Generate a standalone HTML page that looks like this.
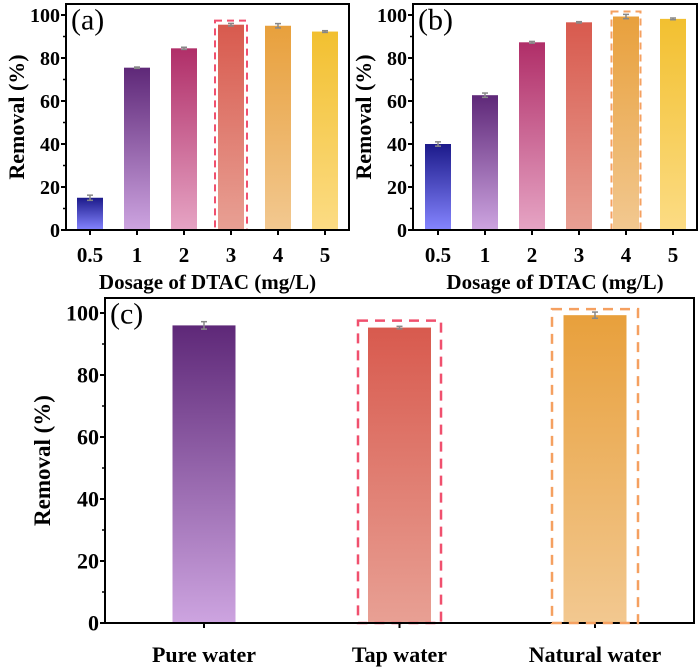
<!DOCTYPE html>
<html><head><meta charset="utf-8"><style>
html,body{margin:0;padding:0;background:#fff;}
svg{display:block;}
svg text{font-family:"Liberation Serif",serif;font-weight:bold;}
svg text.pl{font-weight:normal;}
</style></head><body>
<svg id="fig" width="700" height="670" viewBox="0 0 700 670">
<defs>
<linearGradient id="gBlue" x1="0" y1="0" x2="0" y2="1"><stop offset="0" stop-color="#1c1a8a"/><stop offset="1" stop-color="#8585ff"/></linearGradient>
<linearGradient id="gPurple" x1="0" y1="0" x2="0" y2="1"><stop offset="0" stop-color="#5e2878"/><stop offset="1" stop-color="#cda4e0"/></linearGradient>
<linearGradient id="gMagenta" x1="0" y1="0" x2="0" y2="1"><stop offset="0" stop-color="#b02e68"/><stop offset="1" stop-color="#e6a4c4"/></linearGradient>
<linearGradient id="gRed" x1="0" y1="0" x2="0" y2="1"><stop offset="0" stop-color="#d85a4e"/><stop offset="1" stop-color="#e8a094"/></linearGradient>
<linearGradient id="gOrange" x1="0" y1="0" x2="0" y2="1"><stop offset="0" stop-color="#e8a03c"/><stop offset="1" stop-color="#f2c890"/></linearGradient>
<linearGradient id="gYellow" x1="0" y1="0" x2="0" y2="1"><stop offset="0" stop-color="#f2c030"/><stop offset="1" stop-color="#fcdc84"/></linearGradient>
</defs>
</svg>
<script>
const catsA = ["0.5","1","2","3","4","5"];
const valsA = [15, 75.5, 84.5, 95.5, 95, 92.3];
const errA = [1.2, 0.3, 0.5, 0.6, 1.0, 0.4];
const valsB = [40, 62.7, 87.3, 96.6, 99.3, 98.2];
const errB = [1.0, 1.0, 0.4, 0.3, 1.0, 0.4];
const catsC = ["Pure water","Tap water","Natural water"];
const valsC = [96, 95.3, 99.3];
const errC = [1.2, 0.4, 1.0];
const yTicks = [0,20,40,60,80,100];
const fills6 = ["gBlue","gPurple","gMagenta","gRed","gOrange","gYellow"];
const fills3 = ["gPurple","gRed","gOrange"];

const NS = "http://www.w3.org/2000/svg";
const svg = document.getElementById("fig");
function mk(tag, attrs, parent, txt){
  const e = document.createElementNS(NS, tag);
  for (const k in attrs) e.setAttribute(k, attrs[k]);
  if (tag === "text") e.setAttribute("font-family", "Liberation Serif, serif");
  if (txt !== undefined) e.textContent = txt;
  (parent||svg).appendChild(e);
  return e;
}

function panel(p){
  const g = mk("g", {});
  
  
  const y = v => p.y0 - (v/100)*(p.y0 - p.y100);
  const x = i => p.xFirst + i*p.step;
  p.vals.forEach((v,i)=>{
    const r = mk("rect", {x: x(i)-p.bw/2, y: y(v), width: p.bw, height: y(0)-y(v), fill: "url(#"+p.fills[i]+")"}, g);
    
    
    const e = p.errs[i];
    const eb = mk("g", {stroke:"#888", "stroke-width":1.5}, g);
    
    
    mk("line", {x1:x(i), x2:x(i), y1:y(v+e), y2:y(v-e)}, eb);
    mk("line", {x1:x(i)-3, x2:x(i)+3, y1:y(v+e), y2:y(v+e)}, eb);
    mk("line", {x1:x(i)-3, x2:x(i)+3, y1:y(v-e), y2:y(v-e)}, eb);
  });
  if (p.hl !== undefined){
    const i = p.hl, v = p.vals[i];
    const hb = mk("rect", {x: x(i)-p.hw/2, y: y(v)-p.hpad, width: p.hw, height: y(0)-y(v)+p.hpad, fill:"none", stroke:p.hcol, "stroke-width":p.hsw, "stroke-dasharray":p.hdash}, g);
    
    
  }
  const fr = mk("rect", {x:p.l, y:p.t, width:p.r-p.l, height:p.y0-p.t, fill:"none", stroke:"#000", "stroke-width":2}, g);
  
  
  yTicks.forEach(t=>{
    mk("line", {x1:p.l-5, x2:p.l, y1:y(t), y2:y(t), stroke:"#000", "stroke-width":2}, g);
    const tl = mk("text", {x:p.l-6, y:y(t)+p.fs*0.35, "text-anchor":"end", "font-size":p.fs}, g, String(t));
    
    
  });
  for (let t=10; t<100; t+=20) mk("line", {x1:p.l-3, x2:p.l, y1:y(t), y2:y(t), stroke:"#000", "stroke-width":1.5}, g);
  p.cats.forEach((c,i)=>{
    mk("line", {x1:x(i), x2:x(i), y1:p.y0, y2:p.y0+5, stroke:"#000", "stroke-width":2}, g);
    const xl = mk("text", {x:x(i), y:p.xly, "text-anchor":"middle", "font-size":p.xfs}, g, c);
    
    
  });
  const yt = mk("text", {x:p.ytx, y:(p.t+p.y0)/2, "text-anchor":"middle", "font-size":p.yfs, transform:"rotate(-90 "+p.ytx+" "+((p.t+p.y0)/2)+")"}, g, "Removal (%)");
  
  
  if (p.xtitle){
    const xt = mk("text", {x:(p.l+p.r)/2, y:p.xty, "text-anchor":"middle", "font-size":21}, g, p.xtitle);
    
    
  }
  const pl = mk("text", {x:p.l+5, y:p.t+p.lfs*0.85, "font-size":p.lfs, "class":"pl"}, g, p.label);
  
  
}

panel({name:"panel-a", cats:catsA, vals:valsA, errs:errA, fills:fills6, l:66, r:349, t:4, y0:230, y100:15,
  xFirst:90, step:47, bw:26, fs:20, xfs:21, xly:262, yfs:22, ytx:24, xtitle:"Dosage of DTAC (mg/L)", xty:289,
  label:"(a)", lfs:30, hl:3, hw:32, hpad:4, hcol:"#f0506e", hsw:2, hdash:"7,5"});
panel({name:"panel-b", cats:catsA, vals:valsB, errs:errB, fills:fills6, l:413, r:697, t:4, y0:230, y100:15,
  xFirst:438, step:47, bw:26, fs:20, xfs:21, xly:262, yfs:22, ytx:371, xtitle:"Dosage of DTAC (mg/L)", xty:289,
  label:"(b)", lfs:30, hl:4, hw:29, hpad:5, hcol:"#f5a060", hsw:2, hdash:"7,5"});
panel({name:"panel-c", cats:catsC, vals:valsC, errs:errC, fills:fills3, l:105, r:694, t:298, y0:623, y100:313,
  xFirst:204, step:195.5, bw:63, fs:22, xfs:22, xly:662, yfs:23, ytx:50, xtitle:null, xty:0,
  label:"(c)", lfs:30, hl:1, hw:83, hpad:7, hcol:"#f0506e", hsw:2.5, hdash:"10,7"});
(function(){
  const y0=623, y100=313, y = v => y0 - (v/100)*(y0-y100);
  const cx = 204 + 2*195.5, v = valsC[2];
  const hb = mk("rect", {x:cx-43, y:y(v)-6, width:86, height:y(0)-y(v)+6, fill:"none", stroke:"#f5a060", "stroke-width":2.5, "stroke-dasharray":"10,7"});
  
  
})();
</script>
</body></html>
